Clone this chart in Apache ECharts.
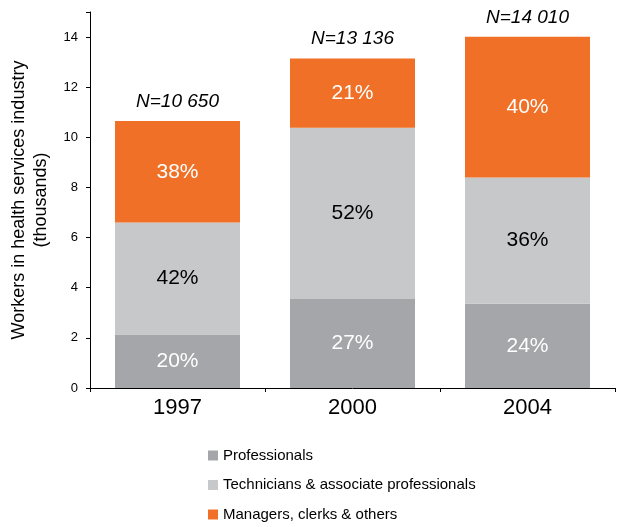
<!DOCTYPE html>
<html>
<head>
<meta charset="utf-8">
<script src="https://cdn.jsdelivr.net/npm/echarts@6/dist/echarts.min.js"></script>
<style>
  html, body { margin: 0; padding: 0; background: #fff; }
  #charts { width: 619px; height: 527px; }
</style>
</head>
<body>
<div id="charts"></div>
<script>
// 数据：单位千人
var years = ['1997', '2000', '2004'];
var totalLabels = ['N=10 650', 'N=13 136', 'N=14 010'];
var professionals = [2.13, 3.55, 3.36];
var technicians = [4.47, 6.83, 5.04];
var managers = [4.05, 2.76, 5.61];
var profPct = ['20%', '27%', '24%'];
var techPct = ['42%', '52%', '36%'];
var mgrPct = ['38%', '21%', '40%'];

var font = 'Liberation Sans, Arial, sans-serif';

function pctLabel(arr, color) {
	return {
		show: true,
		position: 'inside',
		color: color,
		fontSize: 21,
		fontFamily: font,
		formatter: function (p) { return arr[p.dataIndex]; }
	};
}

var myChart = echarts.init(document.getElementById('charts'));
myChart.setOption({
	animation: false,
	grid: { left: 90, right: 4, top: 12, bottom: 139, outerBoundsMode: 'none' },
	legend: {
		orient: 'vertical',
		left: 203,
		top: 443,
		bottom: 0,
		itemWidth: 10,
		itemHeight: 10,
		itemGap: 14.5,
		icon: 'rect',
		data: ['Professionals', 'Technicians & associate professionals', 'Managers, clerks & others'],
		textStyle: { fontSize: 15, fontFamily: font, color: '#000' }
	},
	xAxis: {
		type: 'category',
		data: years,
		axisLine: { lineStyle: { color: '#000' } },
		axisTick: { show: true, length: 4, lineStyle: { color: '#000' } },
		axisLabel: { fontSize: 22, fontFamily: font, color: '#000', margin: 9 }
	},
	yAxis: {
		type: 'value',
		min: 0,
		max: 15,
		interval: 2,
		name: 'Workers in health services industry\n(thousands)',
		nameLocation: 'middle',
		nameGap: 38,
		nameTextStyle: { fontSize: 18, fontFamily: font, color: '#000', lineHeight: 22 },
		axisLine: { show: true, lineStyle: { color: '#000' } },
		axisTick: { show: true, length: 4, lineStyle: { color: '#000' } },
		splitLine: { show: false },
		axisLabel: {
			fontSize: 13, fontFamily: font, color: '#000', margin: 12,
			formatter: function (v) { return v > 14 ? '' : v; }
		}
	},
	series: [
		{
			name: 'Professionals', type: 'bar', stack: 'a', barWidth: 125,
			itemStyle: { color: '#A5A6A9' },
			label: pctLabel(profPct, '#fff'),
			data: professionals
		},
		{
			name: 'Technicians & associate professionals', type: 'bar', stack: 'a',
			itemStyle: { color: '#C7C8CA' },
			label: pctLabel(techPct, '#000'),
			data: technicians
		},
		{
			name: 'Managers, clerks & others', type: 'bar', stack: 'a',
			itemStyle: { color: '#EF7026' },
			label: pctLabel(mgrPct, '#fff'),
			data: managers
		},
		{
			name: 'total', type: 'bar', stack: 'a',
			itemStyle: { color: 'transparent' },
			label: {
				show: true, position: 'top', distance: 10,
				fontSize: 19, fontStyle: 'italic', fontFamily: font, color: '#000',
				formatter: function (p) { return totalLabels[p.dataIndex]; }
			},
			data: [0, 0, 0]
		}
	]
});
</script>
</body>
</html>
